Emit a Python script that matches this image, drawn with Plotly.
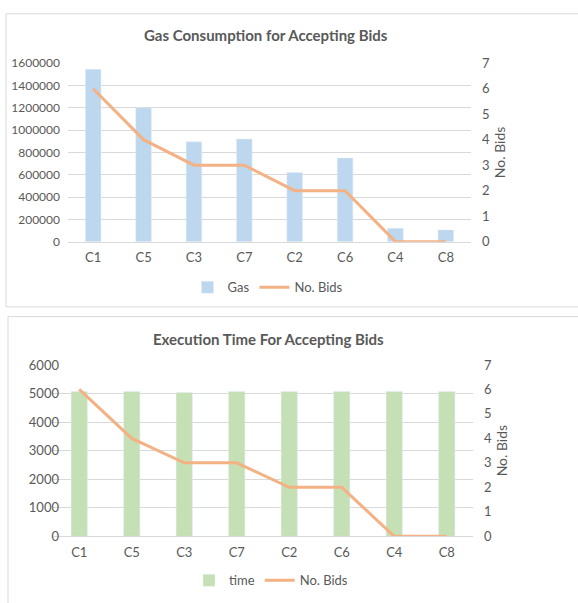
import plotly.graph_objects as go

categories = ["C1", "C5", "C3", "C7", "C2", "C6", "C4", "C8"]
gas = [1545000, 1200000, 895000, 920000, 620000, 750000, 120000, 105000]
time_ms = [5070, 5070, 5040, 5070, 5070, 5070, 5070, 5070]
bids = [6, 4, 3, 3, 2, 2, 0, 0]

W, H = 578, 603
FONT = "Lato"
GREY = "#595959"
GRID = "#D9D9D9"
BLUE = "#BDD7EE"
GREEN = "#C5E0B4"
ORANGE = "#F4B183"


def px(x):
    return x / W


def py(y):
    return 1 - y / H


fig = go.Figure()

fig.add_trace(go.Bar(x=categories, y=gas, name="Gas", marker_color=BLUE,
                     width=0.31, xaxis="x", yaxis="y", legend="legend"))
fig.add_trace(go.Scatter(x=categories, y=bids, name="No. Bids", mode="lines",
                         line=dict(color=ORANGE, width=3), xaxis="x", yaxis="y2",
                         legend="legend"))
fig.add_trace(go.Bar(x=categories, y=time_ms, name="time", marker_color=GREEN,
                     width=0.31, xaxis="x2", yaxis="y3", legend="legend2"))
fig.add_trace(go.Scatter(x=categories, y=bids, name="No. Bids", mode="lines",
                         line=dict(color=ORANGE, width=3), xaxis="x2", yaxis="y4",
                         legend="legend2"))

tickfont = dict(family=FONT, size=12, color=GREY)

xcommon = dict(type="category", showgrid=False, showline=True, linecolor=GRID,
               linewidth=1, ticks="", tickfont=dict(family=FONT, size=13, color=GREY),
               range=[-0.5, 7.5], fixedrange=True, ticklabelstandoff=4)

fig.update_layout(
    width=W, height=H,
    margin=dict(l=0, r=0, t=0, b=0),
    paper_bgcolor="white", plot_bgcolor="white",
    font=dict(family=FONT, color=GREY),
    xaxis=dict(domain=[px(68), px(471)], anchor="y", **xcommon),
    yaxis=dict(domain=[py(240), py(56.7)], range=[0, 1600000], dtick=200000,
               showgrid=True, gridcolor=GRID, zeroline=False, tickfont=tickfont,
               tickformat="d", ticklabelstandoff=7),
    yaxis2=dict(overlaying="y", side="right", anchor="x", range=[0, 7], dtick=1,
                showgrid=False, zeroline=False, tickfont=dict(family=FONT, size=13, color=GREY),
                ticklabelstandoff=10,
                title=dict(text="No. Bids", font=dict(family=FONT, size=14, color=GREY),
                           standoff=6)),
    xaxis2=dict(domain=[px(53), px(473)], anchor="y3", **xcommon),
    yaxis3=dict(domain=[py(542.7), py(366.7)], range=[0, 6000], dtick=1000,
                showgrid=True, gridcolor=GRID, zeroline=False,
                tickfont=dict(family=FONT, size=13, color=GREY),
                tickformat="d", ticklabelstandoff=8),
    yaxis4=dict(overlaying="y3", side="right", anchor="x2", range=[0, 7], dtick=1,
                showgrid=False, zeroline=False, tickfont=dict(family=FONT, size=13, color=GREY),
                ticklabelstandoff=10,
                title=dict(text="No. Bids", font=dict(family=FONT, size=14, color=GREY),
                           standoff=6)),
    legend=dict(orientation="h", x=px(268), y=py(287), xanchor="center",
                yanchor="middle", font=dict(family=FONT, size=13, color=GREY),
                bgcolor="rgba(0,0,0,0)", itemwidth=30),
    legend2=dict(orientation="h", x=px(271), y=py(588), xanchor="center",
                 yanchor="middle", font=dict(family=FONT, size=13, color=GREY),
                 bgcolor="rgba(0,0,0,0)", itemwidth=30),
    annotations=[
        dict(text="<b>Gas Consumption for Accepting Bids</b>", xref="paper",
             yref="paper", x=px(266), y=py(28), showarrow=False,
             xanchor="center", yanchor="middle",
             font=dict(family=FONT, size=15, color=GREY)),
        dict(text="<b>Execution Time For Accepting Bids</b>", xref="paper",
             yref="paper", x=px(268), y=py(340), showarrow=False,
             xanchor="center", yanchor="middle",
             font=dict(family=FONT, size=15, color=GREY)),
    ],
    shapes=[
        dict(type="rect", xref="paper", yref="paper", x0=px(6), x1=px(590),
             y0=py(307), y1=py(6), line=dict(color=GRID, width=1)),
        dict(type="rect", xref="paper", yref="paper", x0=px(8), x1=px(590),
             y0=py(620), y1=py(317), line=dict(color=GRID, width=1)),
    ],
    barmode="overlay",
    showlegend=True,
)

fig.write_html("out.html")
